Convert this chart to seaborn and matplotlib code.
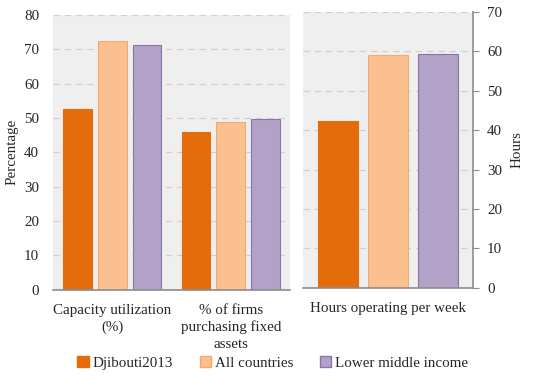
import matplotlib as mpl
import matplotlib.pyplot as plt
import seaborn as sns
import pandas as pd
from matplotlib.patches import Patch

# Values
series = ["Djibouti2013", "All countries", "Lower middle income"]
left_labels = ["Capacity utilization\n(%)", "% of firms\npurchasing fixed\nassets"]
capacity_util = [52.7, 72.3, 71.3]
firms_fixed_assets = [45.8, 48.9, 49.6]
right_labels = ["Hours operating per week"]
hours_per_week = [42.4, 59.1, 59.4]

fill_colors = ["#E46C0A", "#FAC090", "#B3A2C7"]
edge_colors = ["#E46C0A", "#F5A96E", "#8A72AA"]

left_df = pd.DataFrame({
    "indicator": [left_labels[0]] * 3 + [left_labels[1]] * 3,
    "group": series * 2,
    "value": capacity_util + firms_fixed_assets,
})
right_df = pd.DataFrame({
    "indicator": right_labels * 3,
    "group": series,
    "value": hours_per_week,
})

sns.set_style("white")
plt.rcParams["font.family"] = ["Liberation Serif", "DejaVu Serif"]
plt.rcParams["font.size"] = 10.5

fig = plt.figure(figsize=(5.4, 3.88), dpi=100)
ax1 = fig.add_axes([0.098, 0.253, 0.439, 0.709])
ax2 = fig.add_axes([0.561, 0.258, 0.315, 0.711])

grid_color = "#d8cccc"
spine_color = "#8c8c8c"


def style_bars(ax):
    for cont, fc, ec in zip(ax.containers, fill_colors, edge_colors):
        for bar in cont:
            bar.set_facecolor(fc)
            bar.set_edgecolor(ec)
            bar.set_linewidth(0.8)


sns.barplot(data=left_df, x="indicator", y="value", hue="group",
            hue_order=series, palette=fill_colors, width=0.88, gap=0.17,
            legend=False, ax=ax1)
sns.barplot(data=right_df, x="indicator", y="value", hue="group",
            hue_order=series, palette=fill_colors, width=0.88, gap=0.2,
            legend=False, ax=ax2)

for ax, top in [(ax1, 80), (ax2, 70)]:
    style_bars(ax)
    ax.set_facecolor("#efefef")
    ax.set_ylim(0, top)
    ax.set_yticks(range(0, top + 1, 10))
    ax.yaxis.grid(True, linestyle=(0, (5, 4)), color=grid_color, linewidth=0.9)
    ax.set_axisbelow(True)
    ax.set_xlabel("")
    for s in ["top", "left", "right"]:
        ax.spines[s].set_visible(False)
    ax.spines["bottom"].set_color(spine_color)
    ax.spines["bottom"].set_linewidth(1.2)
    ax.tick_params(axis="x", length=0, pad=10, labelsize=10.8)
    ax.tick_params(axis="y", labelsize=10.8)
    for lbl in ax.get_xticklabels():
        lbl.set_linespacing(1.35)

ax1.set_xlim(-0.5, 1.5)
ax1.set_ylabel("Percentage", fontsize=10.8)
ax1.tick_params(axis="y", length=0, pad=10)

ax2.set_xlim(-0.5, 0.5)
ax2.yaxis.tick_right()
ax2.yaxis.set_label_position("right")
ax2.spines["right"].set_visible(True)
ax2.spines["right"].set_color(spine_color)
ax2.spines["right"].set_linewidth(1.2)
ax2.tick_params(axis="y", length=4, color=spine_color, pad=6, direction="out")
ax2.set_ylabel("Hours", fontsize=10.8, labelpad=6)

handles = [Patch(facecolor=fc, edgecolor=ec) for fc, ec in zip(fill_colors, edge_colors)]
fig.legend(handles, series, loc="center", bbox_to_anchor=(0.505, 0.065), ncol=3,
           frameon=False, handlelength=0.75, handleheight=0.75, handletextpad=0.25,
           columnspacing=1.8, fontsize=10.8)

fig.savefig("out.png", dpi=100)
